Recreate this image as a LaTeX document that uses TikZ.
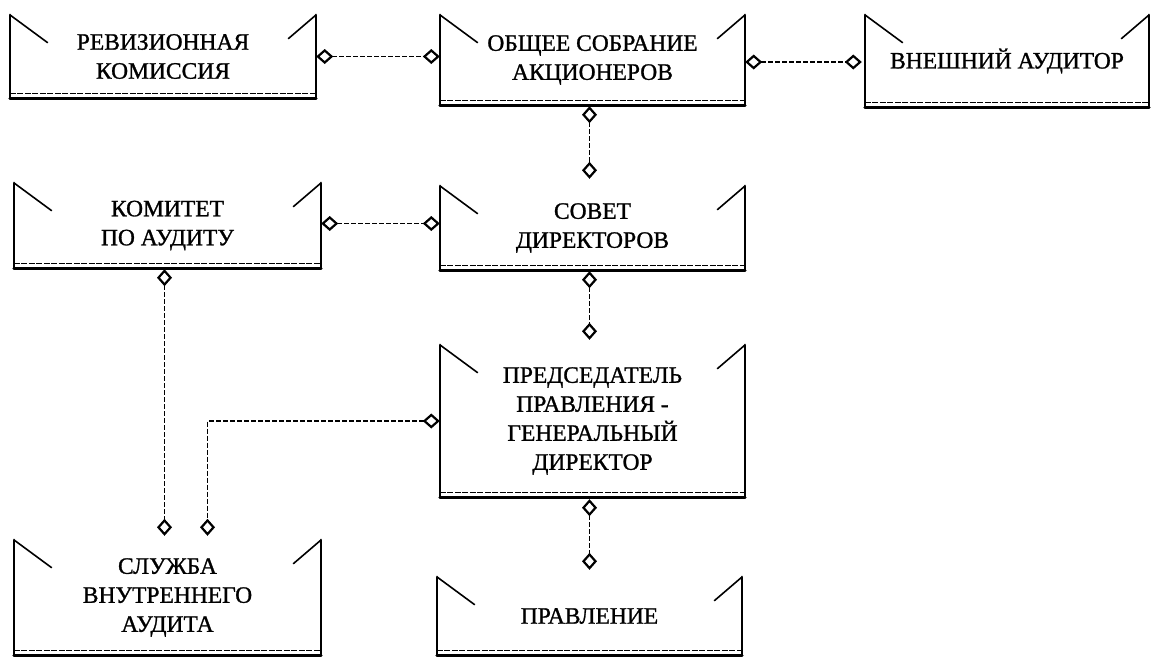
\documentclass[tikz,border=0pt]{standalone}
\usepackage{fontspec}
\setmainfont{Liberation Serif}
\newfontfamily\labelfont[FakeBold=1.1]{Liberation Serif}
\usetikzlibrary{arrows.meta,calc}
\begin{document}
\begin{tikzpicture}[x=1pt,y=-1pt,
  banner/.style 2 args={minimum width=#1, minimum height=#2, inner sep=0pt, align=center,
     font=\labelfont\fontsize{23.5}{29}\selectfont},
  sideline/.style={line width=2.2pt, line cap=round},
  botline/.style={line width=2.8pt, line cap=round},
  hairline/.style={line width=0.8pt, dash pattern=on 6pt off 1.5pt},
  diagline/.style={line width=1.6pt},
  link/.style={line width=1.6pt, dash pattern=on 5pt off 2pt,
     {Diamond[open,length=17pt,width=15pt,line width=2.2pt]}-{Diamond[open,length=17pt,width=15pt,line width=2.2pt]}}
]
\useasboundingbox (0,0) rectangle (1151,659);

\node[banner={306pt}{83pt}] (rev) at (163,56.5) {РЕВИЗИОННАЯ\\КОМИССИЯ};
\node[banner={305pt}{90pt}] (obs) at (592.5,60) {ОБЩЕЕ СОБРАНИЕ\\АКЦИОНЕРОВ};
\node[banner={284pt}{92pt}] (vne) at (1007,61) {ВНЕШНИЙ АУДИТОР};
\node[banner={307pt}{85pt}] (kom) at (167.5,225.5) {КОМИТЕТ\\ПО АУДИТУ};
\node[banner={305pt}{84pt}] (sov) at (592.5,228) {СОВЕТ\\ДИРЕКТОРОВ};
\node[banner={305pt}{152pt}] (pre) at (592.5,421) {ПРЕДСЕДАТЕЛЬ\\ПРАВЛЕНИЯ -\\ГЕНЕРАЛЬНЫЙ\\ДИРЕКТОР};
\node[banner={307pt}{115pt}] (slu) at (167.5,597.5) {СЛУЖБА\\ВНУТРЕННЕГО\\АУДИТА};
\node[banner={305pt}{78pt}] (pra) at (589.5,616) {ПРАВЛЕНИЕ};

\foreach \n in {rev,obs,vne,kom,sov,pre,slu,pra}{
  \draw[sideline] (\n.north west) -- (\n.south west);
  \draw[sideline] (\n.north east) -- (\n.south east);
  \draw[botline] (\n.south west) -- (\n.south east);
  \draw[hairline] ([yshift=4.5pt]\n.south west) -- ([yshift=4.5pt]\n.south east);
  \draw[diagline] (\n.north west) -- ++(38,28);
  \draw[diagline] (\n.north east) -- ++(-28,24);
}

\draw[link] (rev.east) -- (rev.east -| obs.west);
\draw[link, shorten >=3pt] ([yshift=-2pt]obs.east) -- ([yshift=-2pt]obs.east -| vne.west);
\draw[link, shorten >=7pt, shorten <=1pt] ([xshift=-3pt]obs.south) -- ([xshift=-3pt]obs.south |- sov.north);
\draw[link] ([yshift=2pt]kom.east) -- ([yshift=2pt]kom.east -| sov.west);
\draw[link, shorten >=5pt, shorten <=1pt] ([xshift=-3pt]sov.south) -- ([xshift=-3pt]sov.south |- pre.north);
\draw[link, shorten >=7pt, shorten <=2pt] ([xshift=-3pt]pre.south) -- ([xshift=-3pt]pre.south |- pra.north);
\draw[link, shorten >=4pt, shorten <=1pt] ([xshift=-3pt]kom.south) -- ([xshift=-3pt]slu.north);
\draw[link, shorten >=4pt] (pre.west) -| ([xshift=40pt]slu.north);
\end{tikzpicture}
\end{document}
